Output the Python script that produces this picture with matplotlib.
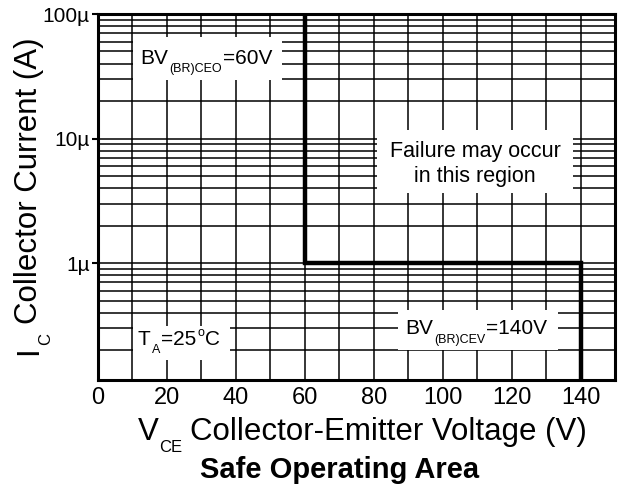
import numpy as np
import matplotlib
matplotlib.use("Agg")
import matplotlib.pyplot as plt
from matplotlib.patches import Rectangle
from matplotlib.ticker import LogLocator, NullFormatter, MultipleLocator

plt.rcParams["font.family"] = ["Liberation Sans", "DejaVu Sans"]

# safe operating area boundary (V, A)
soa_v = [60, 60, 140, 140]
soa_i = [100e-6, 1e-6, 1e-6, 0.1e-6]

y_ticks = [1e-6, 1e-5, 1e-4]
y_labels = ["1µ", "10µ", "100µ"]
x_ticks = [0, 20, 40, 60, 80, 100, 120, 140]

W, H = 621, 493
fig = plt.figure(figsize=(W / 100, H / 100), dpi=100)
ax = fig.add_axes([98 / W, 1 - 380 / H, 517 / W, 366 / H])

ax.set_yscale("log")
ax.set_xlim(0, 150)
ax.set_ylim(0.115e-6, 100e-6)

ax.set_xticks(x_ticks)
ax.xaxis.set_minor_locator(MultipleLocator(10))
ax.set_yticks(y_ticks, y_labels, fontsize=15)
ax.yaxis.set_minor_locator(LogLocator(base=10, subs=np.arange(2, 10)))
ax.yaxis.set_minor_formatter(NullFormatter())

ax.grid(which="both", color="black", linewidth=1.1)
ax.set_axisbelow(True)
ax.tick_params(axis="x", which="both", length=0, labelsize=17, pad=5)
ax.tick_params(axis="y", which="major", length=4, width=1.5, labelsize=15, pad=2)
ax.tick_params(axis="y", which="minor", length=0)
for s in ax.spines.values():
    s.set_linewidth(2.2)

ax.plot(soa_v, soa_i, color="black", linewidth=3.2, solid_joinstyle="miter", zorder=5)

renderer = fig.canvas.get_renderer()


def rich(x, y, parts, ha="left", rotation=0, weight="normal"):
    # parts: (text, fontsize, drop in px, gap before in px); x, y in pixels from top left
    widths = []
    for s, size, drop, gap in parts:
        t = fig.text(0, 0, s, fontsize=size, fontweight=weight)
        widths.append(t.get_window_extent(renderer).width)
        t.remove()
    total = sum(widths) + sum(p[3] for p in parts)
    pos = -total / 2 if ha == "center" else 0
    for (s, size, drop, gap), w in zip(parts, widths):
        pos += gap
        if rotation == 0:
            px, py = x + pos, y + drop
        else:
            px, py = x + drop, y - pos
        fig.text(px / W, 1 - py / H, s, fontsize=size, fontweight=weight, ha="left",
                 va="baseline", rotation=rotation, rotation_mode="anchor", zorder=7)
        pos += w


def white_box(x0, y0, x1, y1):
    ax.add_patch(Rectangle((x0 / W, 1 - y1 / H), (x1 - x0) / W, (y1 - y0) / H,
                           transform=fig.transFigure, facecolor="white", edgecolor="none",
                           zorder=4, clip_on=False))


white_box(133, 37, 282, 80)
rich(140, 64, [("BV", 15, 0, 0), ("(BR)CEO", 9, 8, 1), ("=60V", 15, 0, 1)])

white_box(377, 130, 573, 193)
fig.text(475 / W, 1 - 157 / H, "Failure may occur", fontsize=15.5, ha="center",
         va="baseline", zorder=7)
fig.text(475 / W, 1 - 182 / H, "in this region", fontsize=15.5, ha="center",
         va="baseline", zorder=7)

white_box(398, 310, 558, 350)
rich(405, 334, [("BV", 15, 0, 0), ("(BR)CEV", 9, 9, 1), ("=140V", 15, 0, 1)])

white_box(133, 326, 230, 360)
rich(138, 345, [("T", 15, 0, 0), ("A", 9, 8, 1), ("=25", 15, 0, 1), ("o", 9, -9, 1),
                ("C", 15, 0, 1)])

rich(362, 440, [("V", 22.5, 0, 0), ("CE", 12, 12, 1),
                ("Collector-Emitter Voltage (V)", 22.5, 0, 7)], ha="center")
rich(37, 355, [("I", 22.5, 0, 0), ("C", 12, 13, 1),
               ("Collector Current (A)", 22.5, 0, 9)], rotation=90)
fig.text(200 / W, 1 - 478 / H, "Safe Operating Area", fontsize=21, fontweight="bold",
         ha="left", va="baseline")

fig.savefig("out.png", dpi=100)
